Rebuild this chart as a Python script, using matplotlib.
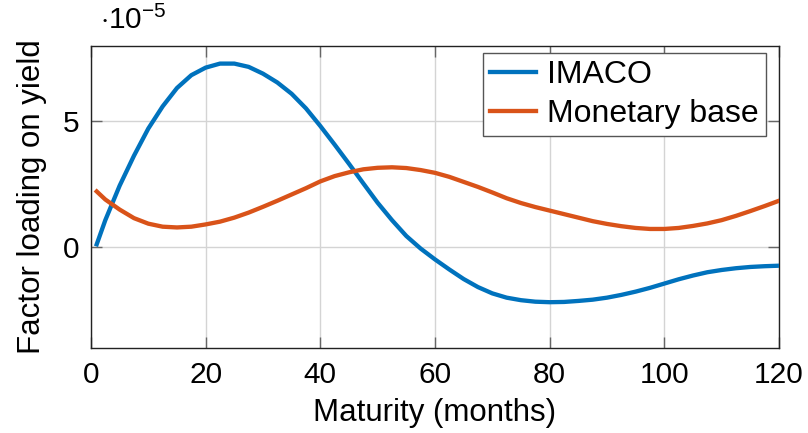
import matplotlib
matplotlib.use('Agg')
import matplotlib.pyplot as plt

plt.rcParams['font.family'] = ['Liberation Sans', 'DejaVu Sans']
plt.rcParams['mathtext.fontset'] = 'custom'
plt.rcParams['mathtext.rm'] = 'Liberation Sans'
plt.rcParams['mathtext.it'] = 'Liberation Sans'

# maturity in months, loadings in units of 1e-5
maturity = [1, 2.5, 5, 7.5, 10, 12.5, 15, 17.5, 20, 22.5, 25, 27.5, 30, 32.5,
            35, 37.5, 40, 42.5, 45, 47.5, 50, 52.5, 55, 57.5, 60, 62.5, 65,
            67.5, 70, 72.5, 75, 77.5, 80, 82.5, 85, 87.5, 90, 92.5, 95, 97.5,
            100, 102.5, 105, 107.5, 110, 112.5, 115, 117.5, 120]
imaco = [0.12, 1.08, 2.45, 3.64, 4.72, 5.6, 6.33, 6.84, 7.14, 7.3, 7.3, 7.17,
         6.9, 6.55, 6.1, 5.52, 4.82, 4.08, 3.32, 2.54, 1.77, 1.08, 0.45, -0.05,
         -0.48, -0.88, -1.26, -1.58, -1.83, -2.0, -2.1, -2.16, -2.18, -2.17,
         -2.13, -2.08, -2.0, -1.89, -1.76, -1.61, -1.44, -1.27, -1.12, -0.99,
         -0.9, -0.83, -0.78, -0.75, -0.73]
money_base = [2.22, 1.9, 1.5, 1.16, 0.94, 0.82, 0.79, 0.82, 0.91, 1.02, 1.18,
              1.38, 1.61, 1.85, 2.1, 2.35, 2.62, 2.83, 2.98, 3.1, 3.16, 3.18,
              3.15, 3.07, 2.96, 2.8, 2.6, 2.4, 2.18, 1.95, 1.76, 1.6, 1.46,
              1.32, 1.18, 1.04, 0.93, 0.84, 0.77, 0.73, 0.73, 0.77, 0.85, 0.95,
              1.08, 1.25, 1.44, 1.64, 1.85]

x_ticks = [0, 20, 40, 60, 80, 100, 120]
y_ticks = [0, 5]

fig = plt.figure(figsize=(8.08, 4.33), dpi=100)
ax = fig.add_axes([0.1126, 0.1963, 0.8515, 0.6975])

ax.plot(maturity, imaco, color='#0072BD', lw=3.1, label='IMACO',
        solid_joinstyle='round', zorder=3)
ax.plot(maturity, money_base, color='#D95319', lw=3.1, label='Monetary base',
        solid_joinstyle='round', zorder=3)

ax.set_xlim(0, 120)
ax.set_ylim(-4, 8)
ax.set_xticks(x_ticks)
ax.set_yticks(y_ticks)
ax.grid(True, color='#d4d4d4', lw=1.0)
ax.tick_params(direction='in', length=8, width=1, color='#666666',
               top=True, right=True, labelsize=21.5)
ax.tick_params(axis='x', pad=9)
ax.tick_params(axis='y', pad=8)
for s in ax.spines.values():
    s.set_linewidth(1.0)
    s.set_color('#222222')

ax.set_xlabel('Maturity (months)', fontsize=22.5, labelpad=7)
ax.set_ylabel('Factor loading on yield', fontsize=22.5, labelpad=12)
ax.text(0.013, 1.035, r'$\cdot10^{-5}$', transform=ax.transAxes,
        fontsize=21.5, ha='left', va='bottom')

leg = ax.legend(loc='upper right', bbox_to_anchor=(0.981, 0.977),
                borderaxespad=0, fontsize=23, handlelength=1.45,
                handletextpad=0.35, labelspacing=0.28, borderpad=0.22,
                fancybox=False, framealpha=1, edgecolor='#555555')
leg.get_frame().set_linewidth(1.0)

fig.savefig('out.png', dpi=100)
